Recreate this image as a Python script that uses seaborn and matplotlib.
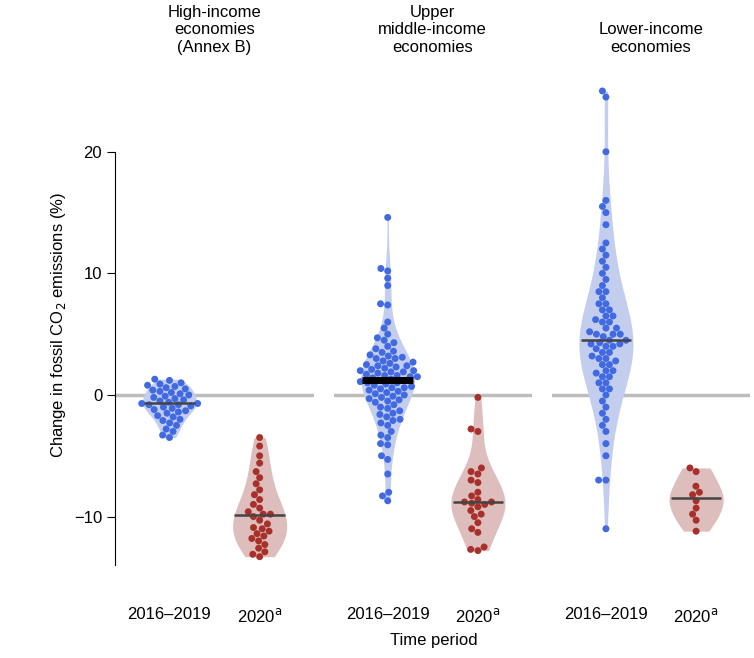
import matplotlib
matplotlib.use("Agg")
import matplotlib.pyplot as plt
import seaborn as sns
import numpy as np
import pandas as pd

groups = ["High-income\neconomies\n(Annex B)", "Upper\nmiddle-income\neconomies", "Lower-income\neconomies"]
periods = ["2016\u20132019", "2020$^{\\mathrm{a}}$"]

hi_pre = [-3.5, -3.3, -3.0, -2.8, -2.5, -2.3, -2.1, -2.0, -1.8, -1.7, -1.5, -1.4, -1.3, -1.2,
          -1.1, -1.0, -0.9, -0.8, -0.8, -0.7, -0.7, -0.6, -0.5, -0.4, -0.3, -0.2, -0.1, 0.0,
          0.1, 0.2, 0.3, 0.4, 0.5, 0.6, 0.7, 0.8, 0.9, 1.0, 1.2, 1.3]
hi_2020 = [-3.5, -4.2, -5.0, -5.6, -6.3, -6.8, -7.3, -7.8, -8.2, -8.6, -9.0, -9.3, -9.6, -9.8,
           -9.8, -10.0, -10.3, -10.6, -10.9, -11.2, -11.4, -11.6, -11.8, -12.0, -12.3, -12.6,
           -12.9, -13.1, -13.3, -11.0]
um_pre = [14.6, 10.4, 10.2, 9.6, 9.0, 7.5, 7.4, 6.0, 5.5, 5.0, 4.7, 4.5, 4.3, 4.0, 3.8, 3.6,
          3.5, 3.3, 3.2, 3.0, 3.0, 2.8, 2.7, 2.6, 2.5, 2.4, 2.3, 2.2, 2.1, 2.0, 2.0, 1.9, 1.8,
          1.7, 1.6, 1.5, 1.5, 1.4, 1.3, 1.2, 1.2, 1.1, 1.0, 1.0, 0.9, 0.8, 0.7, 0.6, 0.5, 0.4,
          0.3, 0.2, 0.1, 0.0, -0.1, -0.2, -0.3, -0.5, -0.6, -0.8, -1.0, -1.1, -1.3, -1.5, -1.6,
          -1.8, -2.0, -2.1, -2.3, -2.5, -3.0, -3.3, -3.5, -4.0, -4.1, -5.0, -5.3, -6.5, -8.0,
          -8.3, -8.7, 2.4, 1.6, 0.6, 3.1, 1.9, -0.4]
um_2020 = [-0.2, -2.8, -3.0, -6.0, -6.3, -6.5, -7.0, -7.2, -8.0, -8.3, -8.6, -8.8, -8.8, -8.9,
           -9.0, -9.2, -9.5, -9.8, -10.0, -10.5, -11.0, -11.3, -12.5, -12.7, -12.8]
li_pre = [25.0, 24.5, 20.0, 16.0, 15.5, 15.0, 14.0, 12.5, 12.0, 11.5, 11.0, 10.5, 10.0, 9.5,
          9.0, 8.5, 8.5, 8.0, 7.5, 7.5, 7.0, 7.0, 6.5, 6.5, 6.0, 6.0, 5.5, 5.5, 5.0, 5.0, 5.0,
          4.5, 4.5, 4.3, 4.2, 4.2, 4.0, 4.0, 3.5, 3.5, 3.0, 3.0, 2.5, 2.5, 2.0, 2.0, 1.5, 1.5,
          1.0, 1.0, 0.5, 0.5, 0.0, -0.5, -1.0, -1.5, -2.0, -2.5, -3.0, -4.0, -5.0, -7.0, -7.0,
          -11.0, 3.8, 5.2, 6.2, 2.8, 1.8, 3.2, 4.8]
li_2020 = [-6.0, -6.3, -7.5, -8.0, -8.2, -8.7, -9.3, -9.8, -10.3, -11.2]

data = [(hi_pre, hi_2020), (um_pre, um_2020), (li_pre, li_2020)]

sns.set_style("white")
plt.rcParams["font.family"] = ["Liberation Sans", "DejaVu Sans"]
plt.rcParams["text.color"] = "black"
plt.rcParams["axes.labelcolor"] = "black"
plt.rcParams["xtick.color"] = "black"
plt.rcParams["ytick.color"] = "black"

fig, axes = plt.subplots(1, 3, figsize=(7.54, 6.58), dpi=100, sharey=True)
fig.subplots_adjust(left=0.153, right=0.995, top=0.871, bottom=0.141, wspace=0.1)

violin_cols = ["#bccbf5", "#e4b9b7"]
point_cols = ["#4169e1", "#a8302a"]

for i, ax in enumerate(axes):
    pre, post = data[i]
    df = pd.DataFrame({"period": [periods[0]] * len(pre) + [periods[1]] * len(post),
                       "val": pre + post})
    ax.axhline(0, color="#bdbdbd", lw=2.5, zorder=0)
    sns.violinplot(data=df, x="period", y="val", hue="period", order=periods,
                   palette=violin_cols, inner=None, cut=0, linewidth=0,
                   width=0.6, legend=False, ax=ax, zorder=1)
    sns.swarmplot(data=df, x="period", y="val", hue="period", order=periods,
                  palette=point_cols, size=5, legend=False, ax=ax, zorder=3)
    for j, vals in enumerate([pre, post]):
        med = np.median(vals)
        if i == 1 and j == 0:
            ax.hlines(med, j - 0.28, j + 0.28, color="black", lw=5, zorder=4)
        else:
            ax.hlines(med, j - 0.28, j + 0.28, color="#444444", lw=1.8, zorder=4)
    ax.set_xlim(-0.6, 1.6)
    ax.set_xlabel("")
    ax.set_ylabel("")
    ax.set_title(groups[i], fontsize=12, pad=24)
    ax.tick_params(axis="x", length=0, labelsize=12, pad=30)
    for s in ["top", "right", "bottom"]:
        ax.spines[s].set_visible(False)
    if i > 0:
        ax.spines["left"].set_visible(False)
        ax.tick_params(axis="y", length=0)

ax0 = axes[0]
ax0.set_ylim(-14, 25.5)
ax0.set_yticks([-10, 0, 10, 20])
ax0.tick_params(axis="y", left=True, length=6, labelsize=12, color="black")
ax0.spines["left"].set_color("black")
ax0.spines["left"].set_bounds(-14, 20)
ax0.set_ylabel("Change in fossil CO$_2$ emissions (%)", fontsize=12)
fig.text(0.575, 0.02, "Time period", ha="center", fontsize=12)

fig.savefig("out.png", dpi=100)
